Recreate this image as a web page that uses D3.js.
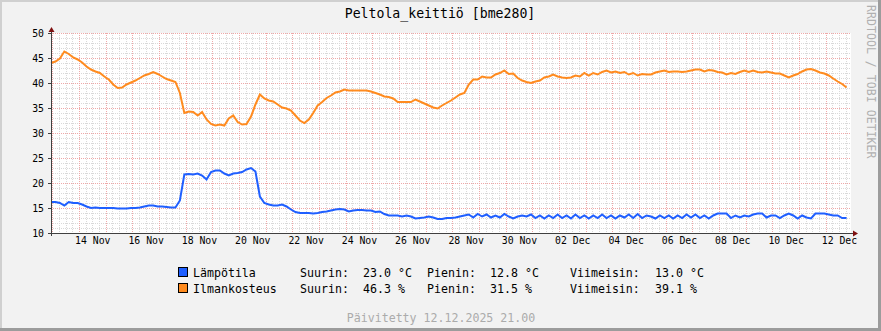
<!DOCTYPE html>
<html>
<head>
<meta charset="utf-8">
<script src="https://cdn.jsdelivr.net/npm/d3@7"></script>
<style>
  html, body { margin: 0; padding: 0; background: #f2f2f2; }
  svg { display: block; }
  text { font-family: "DejaVu Sans Mono", monospace; }
</style>
</head>
<body>
<svg id="chart" width="881" height="331"></svg>
<script>
// ---------------- DATA ----------------
const chartTitle = "Peltola_keittiö [bme280]";
const seriesNames = ["Lämpötila", "Ilmankosteus"];
const seriesUnits = ["°C", "%"];
const seriesColors = ["#1f5fff", "#ff8b1f"];
const startTime = "2025-11-12T22:50:00Z";   // first sample
const stepHours = 4;                         // sampling interval
const rangeDays = 30;

const temperature = [
  16.2,16.2,16.0,15.5,16.2,16.0,16.0,15.7,15.3,15.0,
  15.1,15.0,15.0,15.0,15.0,14.9,14.9,14.9,15.0,15.0,
  15.1,15.3,15.5,15.5,15.3,15.3,15.2,15.1,15.1,16.5,
  21.7,21.8,21.7,21.9,21.5,20.7,22.2,22.5,22.5,21.9,
  21.5,21.9,22.0,22.2,22.7,
  23.0,22.3,17.3,16.0,15.7,15.5,15.5,15.7,15.3,14.7,
  14.2,14.0,14.0,14.0,13.9,14.0,14.2,14.3,14.5,14.7,
  14.8,14.7,14.3,14.5,14.6,14.6,14.5,14.5,14.2,14.3,
  13.8,13.5,13.5,13.5,13.3,13.5,13.3,12.9,13.0,13.1,
  13.3,13.1,12.8,12.8,13.0,
  13.0,13.1,13.3,13.5,13.7,13.1,13.8,13.3,13.7,13.1,
  13.5,13.1,13.8,13.3,12.9,13.3,13.5,13.3,13.7,13.0,
  13.5,12.9,13.5,13.0,13.7,13.0,13.5,12.9,13.7,13.0,
  13.5,12.9,13.5,13.0,13.7,13.0,13.5,12.9,13.5,13.1,
  13.7,13.0,13.8,13.0,13.5,
  13.3,12.9,13.5,13.0,13.5,12.9,13.5,13.0,13.7,13.1,
  13.7,13.0,13.5,12.9,13.5,13.9,13.9,13.9,13.0,13.5,
  13.1,13.5,13.3,13.7,13.9,13.9,13.1,13.5,13.5,13.0,
  13.5,13.9,13.5,12.9,13.5,13.1,12.9,13.9,13.9,13.9,
  13.7,13.5,13.5,13.0,13.0
];

const humidity = [
  44.0,44.3,44.9,46.3,45.8,45.1,44.7,44.1,43.3,42.7,
  42.3,42.0,41.3,40.7,39.7,39.0,39.1,39.7,40.1,40.5,
  41.0,41.5,41.8,42.2,41.8,41.3,40.8,40.5,40.2,38.0,
  34.0,34.3,34.2,33.5,34.2,32.7,31.8,31.5,31.7,31.5,
  32.9,33.5,32.2,31.7,31.8,
  33.3,35.7,37.7,36.9,36.5,36.3,35.7,35.1,34.9,34.5,
  33.5,32.5,32.0,32.7,34.0,35.5,36.2,37.0,37.5,38.1,
  38.3,38.7,38.5,38.5,38.5,38.5,38.5,38.3,38.0,37.7,
  37.3,37.2,36.9,36.2,36.2,36.2,36.2,36.7,36.3,35.9,
  35.5,35.1,34.9,35.5,36.0,
  36.5,37.1,37.7,38.0,39.7,40.7,40.7,41.3,41.1,41.1,
  41.7,42.0,42.5,41.8,41.9,41.0,40.5,40.2,40.0,40.3,
  40.5,41.1,41.3,41.7,41.3,41.1,41.0,41.1,41.5,41.3,
  42.0,41.5,42.0,41.7,42.2,42.5,42.1,42.3,42.0,42.2,
  41.7,42.0,41.5,41.8,41.7,
  41.7,42.1,42.3,42.5,42.2,42.3,42.3,42.2,42.3,42.5,
  42.7,42.7,42.3,42.6,42.5,42.2,42.1,41.7,42.0,41.8,
  42.2,42.5,42.2,42.5,42.2,42.1,42.3,42.1,41.9,41.9,
  41.5,41.1,41.5,41.8,42.3,42.7,42.8,42.5,42.1,41.9,
  41.5,40.9,40.3,39.8,39.1
];

const yTicks = [10, 15, 20, 25, 30, 35, 40, 45, 50];
const xTickLabels = ["14 Nov","16 Nov","18 Nov","20 Nov","22 Nov","24 Nov","26 Nov","28 Nov",
                     "30 Nov","02 Dec","04 Dec","06 Dec","08 Dec","10 Dec","12 Dec"];
const xTickDates = ["2025-11-14","2025-11-16","2025-11-18","2025-11-20","2025-11-22","2025-11-24",
                    "2025-11-26","2025-11-28","2025-11-30","2025-12-02","2025-12-04","2025-12-06",
                    "2025-12-08","2025-12-10","2025-12-12"];
const footerText = "Päivitetty 12.12.2025 21.00";
const watermark = "RRDTOOL / TOBI OETIKER";

// ---------------- LAYOUT ----------------
const W = 881, H = 331;
const plot = { left: 51, top: 33, width: 800, height: 200 };

const svg = d3.select("#chart");
const t0 = new Date(startTime);
const t1 = new Date(t0.getTime() + rangeDays * 86400000);
const times = temperature.map((_, i) => new Date(t0.getTime() + i * stepHours * 3600000));

const x = d3.scaleUtc().domain([t0, t1]).range([plot.left, plot.left + plot.width]);
const y = d3.scaleLinear().domain([10, 50]).range([plot.top + plot.height, plot.top]);

// background + 3D-ish frame
svg.append("rect").attr("width", W).attr("height", H).attr("fill", "#f2f2f2");
svg.append("rect").attr("x", 0).attr("y", 0).attr("width", W).attr("height", 2).attr("fill", "#d0d0d0");
svg.append("rect").attr("x", 0).attr("y", 0).attr("width", 2).attr("height", H).attr("fill", "#d0d0d0");
svg.append("rect").attr("x", 0).attr("y", H - 3).attr("width", W).attr("height", 3).attr("fill", "#9c9c9c");
svg.append("rect").attr("x", W - 3).attr("y", 0).attr("width", 3).attr("height", H).attr("fill", "#9c9c9c");

// canvas
svg.append("rect").attr("x", plot.left).attr("y", plot.top)
  .attr("width", plot.width).attr("height", plot.height).attr("fill", "#ffffff");

const grid = svg.append("g").attr("shape-rendering", "crispEdges");
const minorColor = "#d9d9d9", majorColor = "#efa8a8";
// minor vertical (6 h)
d3.utcHour.every(6).range(t0, t1).forEach(d => {
  if (d.getUTCHours() === 0) return;
  const px = Math.round(x(d)) + 0.5;
  grid.append("line").attr("x1", px).attr("x2", px).attr("y1", plot.top).attr("y2", plot.top + plot.height)
    .attr("stroke", minorColor).attr("stroke-dasharray", "1,1");
});
// minor horizontal (1 unit)
d3.range(11, 50).filter(v => v % 5 !== 0).forEach(v => {
  const py = Math.round(y(v)) + 0.5;
  grid.append("line").attr("x1", plot.left).attr("x2", plot.left + plot.width).attr("y1", py).attr("y2", py)
    .attr("stroke", minorColor).attr("stroke-dasharray", "1,1");
});
// major vertical (days)
d3.utcDay.range(t0, t1).forEach(d => {
  const px = Math.round(x(d)) + 0.5;
  grid.append("line").attr("x1", px).attr("x2", px).attr("y1", plot.top).attr("y2", plot.top + plot.height + 2)
    .attr("stroke", majorColor).attr("stroke-dasharray", "1,1");
});
// major horizontal
yTicks.filter(v => v !== 10).forEach(v => {
  const py = Math.round(y(v)) + 0.5;
  grid.append("line").attr("x1", plot.left - 2).attr("x2", plot.left + plot.width).attr("y1", py).attr("y2", py)
    .attr("stroke", majorColor).attr("stroke-dasharray", "1,1");
});

// series
const series = [temperature, humidity];
series.forEach((vals, k) => {
  const line = d3.line().x((d, i) => x(times[i])).y(d => y(d)).curve(d3.curveLinear);
  svg.append("path").datum(vals).attr("d", line)
    .attr("fill", "none").attr("stroke", seriesColors[k]).attr("stroke-width", 2)
    .attr("stroke-linejoin", "miter");
});

// axes
const yAxis = d3.axisLeft(y).tickValues(yTicks).tickSizeInner(3).tickSizeOuter(0).tickPadding(4)
  .tickFormat(d3.format("d"));
const gy = svg.append("g").attr("transform", `translate(${plot.left},0)`).call(yAxis);
gy.select(".domain").remove();
gy.selectAll(".tick line").attr("stroke", "#404040").attr("shape-rendering", "crispEdges");
gy.selectAll("text").attr("font-size", "9.8px").attr("fill", "#000").attr("font-family", "DejaVu Sans Mono");

const labelDates = xTickDates.map(s => new Date(s + "T12:00:00Z"));
const xAxis = d3.axisBottom(x).tickValues(labelDates).tickSize(0).tickPadding(4.5)
  .tickFormat((d, i) => xTickLabels[i]);
const gx = svg.append("g").attr("transform", `translate(0,${plot.top + plot.height})`).call(xAxis);
gx.select(".domain").remove();
gx.selectAll("text").attr("font-size", "9.8px").attr("fill", "#000").attr("font-family", "DejaVu Sans Mono");

// axis lines
const axisColor = "#404040";
svg.append("line").attr("x1", plot.left + 0.5).attr("x2", plot.left + 0.5)
  .attr("y1", plot.top - 3).attr("y2", plot.top + plot.height + 3)
  .attr("stroke", axisColor).attr("shape-rendering", "crispEdges");
svg.append("line").attr("x1", plot.left - 3).attr("x2", plot.left + plot.width + 3)
  .attr("y1", plot.top + plot.height + 0.5).attr("y2", plot.top + plot.height + 0.5)
  .attr("stroke", axisColor).attr("shape-rendering", "crispEdges");
// arrows
const arrowColor = "#7f1010";
const ax = plot.left + 0.5, ay = plot.top - 6;
svg.append("path").attr("d", `M${ax},${ay} L${ax - 3},${ay + 5} L${ax + 3},${ay + 5} Z`).attr("fill", arrowColor);
const bx = plot.left + plot.width + 7, by = plot.top + plot.height + 0.5;
svg.append("path").attr("d", `M${bx},${by} L${bx - 5},${by - 3} L${bx - 5},${by + 3} Z`).attr("fill", arrowColor);

// title
svg.append("text").attr("x", 440).attr("y", 18).attr("text-anchor", "middle")
  .attr("font-size", "13.2px").attr("fill", "#000").text(chartTitle);

// watermark (vertical)
svg.append("text").attr("transform", "translate(866.5,5) rotate(90)")
  .attr("font-size", "11.6px").attr("fill", "#b0b0b0").text(watermark);

// legend
const legendRows = [277, 293];
const fmt = d3.format(".1f");
series.forEach((vals, k) => {
  const by0 = legendRows[k];
  const g = svg.append("g");
  g.append("rect").attr("x", 178.5).attr("y", by0 - 9.5).attr("width", 9).attr("height", 9)
    .attr("fill", seriesColors[k]).attr("stroke", "#000").attr("stroke-width", 1);
  const u = seriesUnits[k];
  const items = [
    [193, seriesNames[k]],
    [300, "Suurin:"], [363, `${fmt(d3.max(vals))} ${u}`],
    [427, "Pienin:"], [490, `${fmt(d3.min(vals))} ${u}`],
    [570, "Viimeisin:"], [655, `${fmt(vals[vals.length - 1])} ${u}`]
  ];
  items.forEach(([px, txt]) => {
    g.append("text").attr("x", px).attr("y", by0).attr("font-size", "11.6px")
      .attr("fill", "#000").attr("xml:space", "preserve").text(txt);
  });
});

// footer
svg.append("text").attr("x", 441).attr("y", 322).attr("text-anchor", "middle")
  .attr("font-size", "11.6px").attr("fill", "#ababab").text(footerText);
</script>
</body>
</html>
